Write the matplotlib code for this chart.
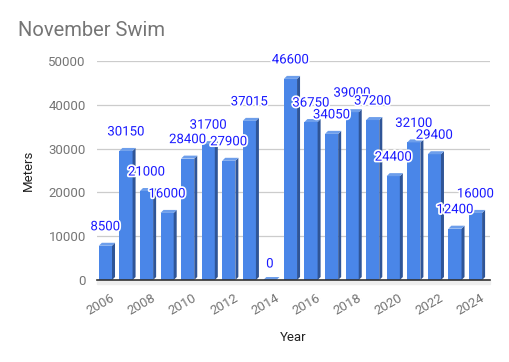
import matplotlib
matplotlib.use("Agg")
import matplotlib.pyplot as plt
from matplotlib.patches import Polygon
import matplotlib.patheffects as pe
import matplotlib.transforms as mtransforms

years = [2006, 2007, 2008, 2009, 2010, 2011, 2012, 2013, 2014, 2015,
         2016, 2017, 2018, 2019, 2020, 2021, 2022, 2023, 2024]
meters = [8500, 30150, 21000, 16000, 28400, 31700, 27900, 37015, 0, 46600,
          36750, 34050, 39000, 37200, 24400, 32100, 29400, 12400, 16000]
tick_years = [2006, 2008, 2010, 2012, 2014, 2016, 2018, 2020, 2022, 2024]
y_ticks = [0, 10000, 20000, 30000, 40000, 50000]

plt.rcParams['font.family'] = ['Roboto', 'DejaVu Sans']

fig = plt.figure(figsize=(5.09, 3.62), dpi=100)
ax = fig.add_axes([97/509, 1-280/362, 393/509, 219/362])

front = '#4a86e8'
side = '#2f5597'
top = '#6d9eeb'

xs = list(range(len(years)))
w = 0.64
ax.set_xlim(-0.41, 18.705)
ax.set_ylim(0, 50000)

# 3D depth in data units (about 3 px each way)
px_x = (18.705 + 0.41) / 393
px_y = 50000 / 219
dx = 3 * px_x
dy = 3 * px_y
fronts = [max(v - dy, 0) for v in meters]
ax.bar(xs, fronts, width=w, color=front, zorder=3, linewidth=0)
for x, v, f in zip(xs, meters, fronts):
    l, r = x - w/2, x + w/2
    ax.add_patch(Polygon([(r, 0), (r + dx, dy), (r + dx, f + dy), (r, f)],
                         closed=True, facecolor=side, edgecolor='none', zorder=3))
    ax.add_patch(Polygon([(l, f), (l + dx, f + dy), (r + dx, f + dy), (r, f)],
                         closed=True, facecolor=top, edgecolor='none', zorder=3))
    ax.annotate(f"{v}", xy=(x, v), xytext=(0, 11.5), textcoords='offset points',
                ha='center', va='center', color='#1a1aff', fontsize=9.5, zorder=5,
                path_effects=[pe.withStroke(linewidth=2.5, foreground='white')])

# floor shadow
ax.axhspan(-4 * px_y, 0, xmin=0, xmax=1, color='#eeeeee', zorder=1, clip_on=False)

ax.set_yticks(y_ticks)
ax.set_yticklabels([str(t) for t in y_ticks])
ax.set_xticks([years.index(y) for y in tick_years])
ax.set_xticklabels([str(y) for y in tick_years], rotation=30, ha='right',
                   rotation_mode='anchor')
ax.tick_params(axis='both', length=0, labelsize=9.5, colors='#757575')
ax.tick_params(axis='x', pad=8)
ax.tick_params(axis='y', pad=8)
shift = mtransforms.ScaledTranslation(5/100, 0, fig.dpi_scale_trans)
for lab in ax.get_xticklabels():
    lab.set_transform(lab.get_transform() + shift)
ax.grid(axis='y', color='#cccccc', linewidth=0.9, zorder=0)
ax.set_axisbelow(True)
for s in ['top', 'right', 'left']:
    ax.spines[s].set_visible(False)
ax.spines['bottom'].set_color('#333333')
ax.spines['bottom'].set_linewidth(1.2)
ax.spines['bottom'].set_zorder(4)

ax.set_ylabel('Meters', color='#222222', fontsize=9.5, labelpad=10)
ax.set_xlabel('Year', color='#222222', fontsize=9.5, labelpad=10)

fig.text(18/509, 1-30/362, 'November Swim', color='#757575', fontsize=14.5,
         ha='left', va='center')

fig.savefig('out.png', dpi=100)
